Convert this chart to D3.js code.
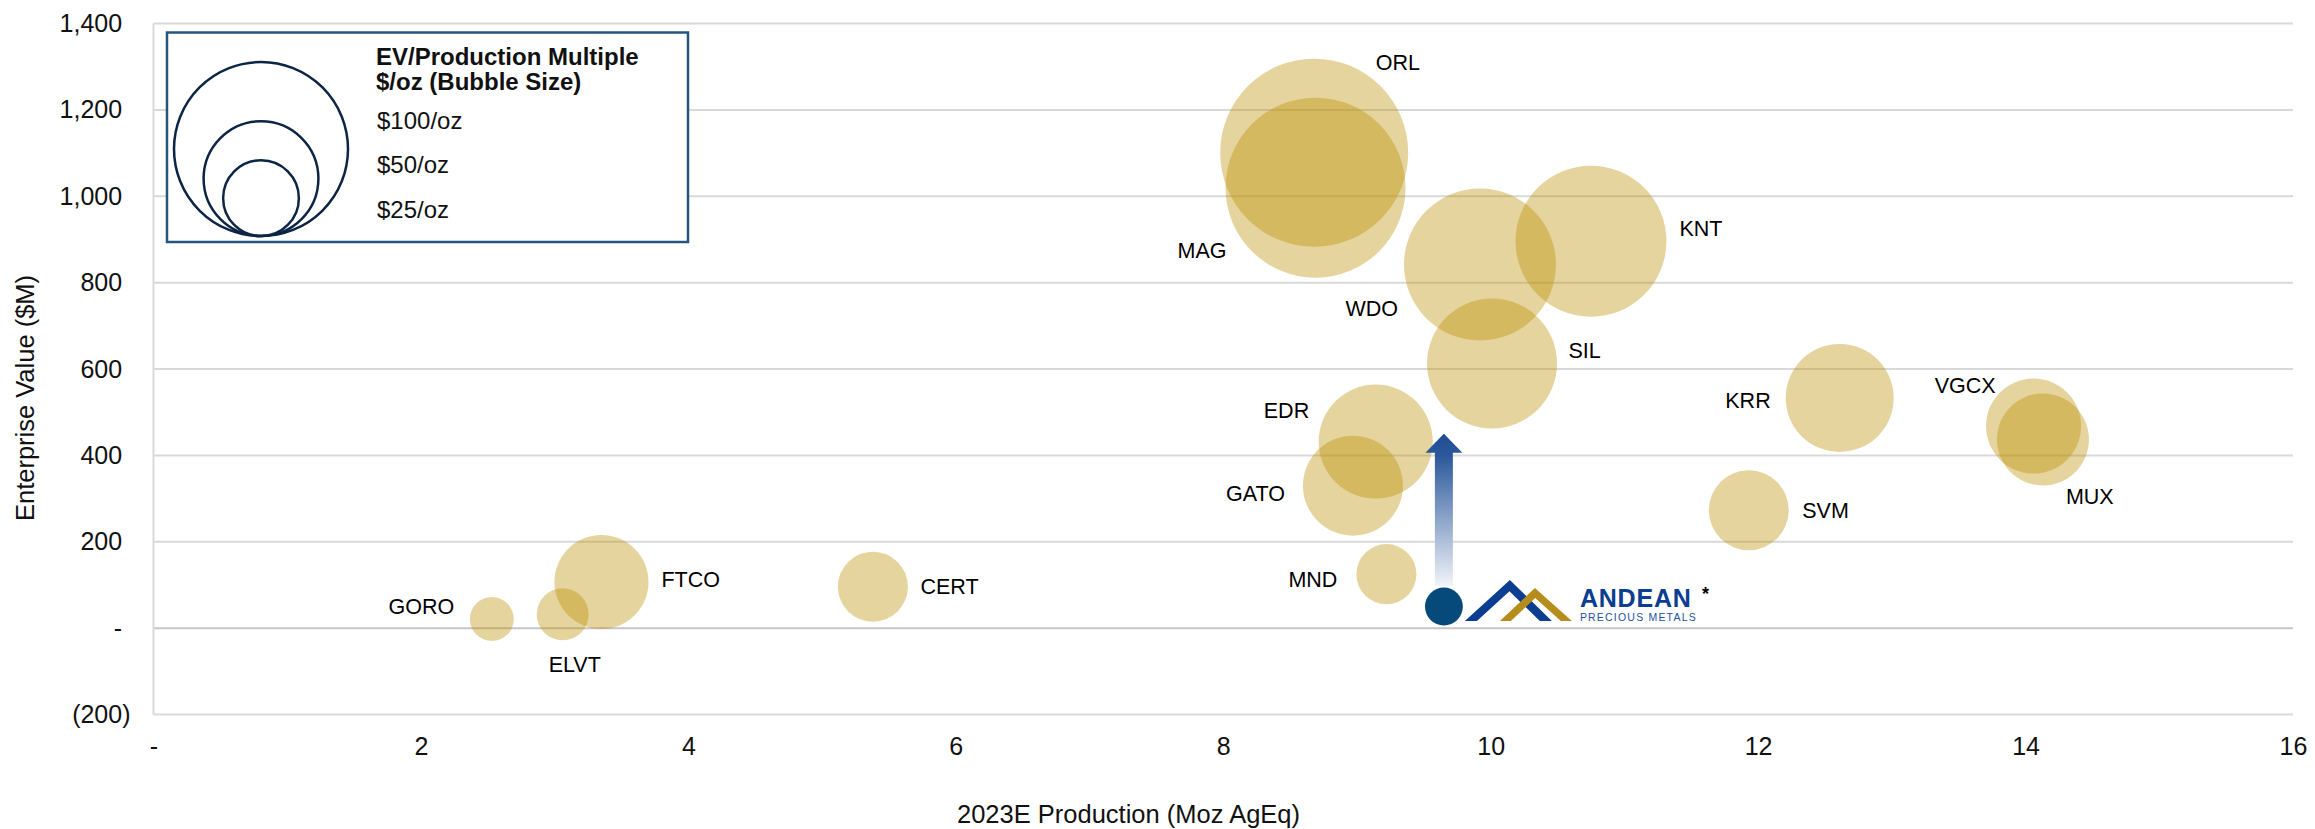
<!DOCTYPE html>
<html>
<head>
<meta charset="utf-8">
<script src="https://cdn.jsdelivr.net/npm/d3@7"></script>
<style>
  body { margin: 0; background: #fff; }
  svg { display: block; font-family: Arial, "Liberation Sans", sans-serif; }
</style>
</head>
<body>
<svg id="chart" width="2315" height="829"></svg>
<script>
// Peer group: 2023E production (Moz AgEq), EV ($M), EV/production multiple ($/oz)
const companies = ["GORO", "ELVT", "FTCO", "CERT", "MAG", "ORL", "GATO", "EDR", "MND", "WDO", "SIL", "KNT", "SVM", "KRR", "VGCX", "MUX"];
const production = [2.53, 3.06, 3.35, 5.38, 8.69, 8.68, 8.97, 9.14, 9.22, 9.92, 10.01, 10.75, 11.93, 12.61, 14.06, 14.13];
const enterpriseValue = [21, 32, 107, 96, 1020, 1101, 330, 432, 125, 842, 613, 896, 273, 533, 468, 437];
const evMultiple = [7.0, 9.8, 32.1, 17.8, 117.6, 128.3, 36.3, 47.2, 13.1, 83.8, 61.3, 82.7, 23.2, 42.3, 32.8, 30.7];

// Andean Precious Metals
const andeanProduction = 9.65;
const andeanEV = 50;
const andeanMultiple = 5.2;
const andeanTargetEV = 450;

// axes + legend
const xTicks = [0, 2, 4, 6, 8, 10, 12, 14, 16];
const yTicks = [-200, 0, 200, 400, 600, 800, 1000, 1200, 1400];
const legendValues = [100, 50, 25];
const legendLabels = ["$100/oz", "$50/oz", "$25/oz"];

// label placement relative to bubble centre: [dx, dy, anchor]
const labelPos = {
  GORO: [-37.5, -5, "end"], ELVT: [-14, 58, "start"], FTCO: [60, 5, "start"], CERT: [47.5, 7.5, "start"],
  MAG: [-89, 70, "end"], ORL: [61.5, -83, "start"], GATO: [-68, 15.5, "end"], EDR: [-66.5, -24, "end"],
  MND: [-49, 13, "end"], WDO: [-82, 51, "end"], SIL: [76.5, -5, "start"], KNT: [88.5, -5.5, "start"],
  SVM: [53.5, 8, "start"], KRR: [-69, 10.5, "end"], VGCX: [-38, -33.5, "end"], MUX: [23, 65, "start"]
};

const svg = d3.select("#chart");
const plotL = 153.5, plotR = 2293, plotT = 23.6, plotB = 714.5;

const x = d3.scaleLinear().domain([0, 16]).range([plotL, plotR]);
const y = d3.scaleLinear().domain([-200, 1400]).range([plotB, plotT]);
const r = d3.scaleSqrt().domain([0, 100]).range([0, 83]);

const fmtY = d => d < 0 ? `(${d3.format(",")(-d)})` : d === 0 ? "-" : d3.format(",")(d);

// gridlines
svg.append("g")
  .selectAll("line")
  .data(yTicks)
  .join("line")
  .attr("x1", plotL).attr("x2", plotR)
  .attr("y1", d => y(d)).attr("y2", d => y(d))
  .attr("stroke", d => d === 0 ? "#c6c6c6" : "#d9d9d9")
  .attr("stroke-width", 2);

svg.append("line")
  .attr("x1", plotL).attr("x2", plotL)
  .attr("y1", plotT).attr("y2", plotB)
  .attr("stroke", "#d9d9d9").attr("stroke-width", 2);

// y tick labels (accounting style: positives padded with hidden ")")
const yAxis = svg.append("g")
  .attr("transform", `translate(${plotL},0)`)
  .call(d3.axisLeft(y).tickValues(yTicks).tickSize(0).tickPadding(23).tickFormat(fmtY));
yAxis.select(".domain").remove();
yAxis.selectAll("text")
  .attr("font-size", 25).attr("font-family", null).attr("fill", "#111")
  .each(function(d) { if (d >= 0) d3.select(this).append("tspan").attr("fill-opacity", 0).text(")"); });

const xAxis = svg.append("g")
  .attr("transform", `translate(0,${plotB})`)
  .call(d3.axisBottom(x).tickValues(xTicks).tickSize(0).tickPadding(22.5).tickFormat(d => d === 0 ? "-" : d));
xAxis.select(".domain").remove();
xAxis.selectAll("text").attr("font-size", 25).attr("font-family", null).attr("fill", "#111");

// axis titles
svg.append("text")
  .attr("x", 957).attr("y", 823)
  .attr("font-size", 25.5).attr("fill", "#111")
  .text("2023E Production (Moz AgEq)");

svg.append("text")
  .attr("transform", "translate(34,398) rotate(-90)")
  .attr("text-anchor", "middle")
  .attr("font-size", 25.5).attr("fill", "#111")
  .text("Enterprise Value ($M)");

// legend
const lg = svg.append("g");
lg.append("rect")
  .attr("x", 167).attr("y", 32.5).attr("width", 521).attr("height", 209.5)
  .attr("fill", "#fff").attr("stroke", "#24557f").attr("stroke-width", 2.5);
const rLegend = d3.scalePow().exponent(0.6).domain([0, 100]).range([0, 87]);
lg.selectAll("circle")
  .data(legendValues)
  .join("circle")
  .attr("cx", 261)
  .attr("cy", d => 236 - rLegend(d))
  .attr("r", d => rLegend(d))
  .attr("fill", "none").attr("stroke", "#0d2545").attr("stroke-width", 2.5);
lg.append("text").attr("x", 376).attr("y", 64.5)
  .attr("font-size", 24).attr("font-weight", "bold").attr("fill", "#111")
  .text("EV/Production Multiple");
lg.append("text").attr("x", 376).attr("y", 90)
  .attr("font-size", 24).attr("font-weight", "bold").attr("fill", "#111")
  .text("$/oz (Bubble Size)");
lg.selectAll("text.item")
  .data(legendLabels)
  .join("text")
  .attr("class", "item")
  .attr("x", 377).attr("y", (d, i) => 128.5 + i * 44.5)
  .attr("font-size", 24).attr("fill", "#111")
  .text(d => d);

// bubbles
const peers = companies.map((c, i) => ({ name: c, prod: production[i], ev: enterpriseValue[i], mult: evMultiple[i] }));

svg.append("g")
  .selectAll("circle")
  .data(peers)
  .join("circle")
  .attr("cx", d => x(d.prod))
  .attr("cy", d => y(d.ev))
  .attr("r", d => r(d.mult))
  .attr("fill", "rgb(188,143,0)")
  .attr("fill-opacity", 0.385);

svg.append("g")
  .selectAll("text")
  .data(peers)
  .join("text")
  .attr("x", d => x(d.prod) + labelPos[d.name][0])
  .attr("y", d => y(d.ev) + labelPos[d.name][1])
  .attr("text-anchor", d => labelPos[d.name][2])
  .attr("font-size", 21.5).attr("fill", "#000")
  .text(d => d.name);

// Andean arrow
const ax = x(andeanProduction), ay = y(andeanEV), ar = r(andeanMultiple);
const tipY = y(andeanTargetEV), headY = tipY + 19, shaftBot = ay - ar - 1;

const defs = svg.append("defs");
const grad = defs.append("linearGradient")
  .attr("id", "arrowGrad").attr("gradientUnits", "userSpaceOnUse")
  .attr("x1", 0).attr("x2", 0).attr("y1", tipY).attr("y2", shaftBot);
grad.append("stop").attr("offset", 0).attr("stop-color", "#1f4b94");
grad.append("stop").attr("offset", 0.15).attr("stop-color", "#2d5a9c");
grad.append("stop").attr("offset", 1).attr("stop-color", "#f2f5fa");

svg.append("path")
  .attr("d", `M${ax},${tipY} L${ax + 18.5},${headY} L${ax + 9},${headY} L${ax + 9},${shaftBot} L${ax - 9},${shaftBot} L${ax - 9},${headY} L${ax - 18.5},${headY} Z`)
  .attr("fill", "url(#arrowGrad)");

svg.append("circle")
  .attr("cx", ax).attr("cy", ay).attr("r", ar)
  .attr("fill", "#064a7c");

// Andean logo, anchored to the point
const logo = svg.append("g").attr("transform", `translate(${ax},${ay})`);
const chevron = (o, i) => "M" + o.concat(i).map(p => p.join(",")).join("L") + "Z";
logo.append("path")
  .attr("d", chevron([[21, 14.5], [66, -26.5], [108, 14.5]], [[96, 14.5], [65.6, -15.2], [33, 14.5]]))
  .attr("fill", "#0b3d91");
logo.append("path")
  .attr("d", chevron([[56, 14.5], [91, -18.5], [128, 14.5]], [[117, 14.5], [91.3, -8.5], [67, 14.5]]))
  .attr("fill", "#b58d1c");
logo.append("text")
  .attr("x", 136).attr("y", 0.5)
  .attr("font-size", 25).attr("font-weight", "bold").attr("letter-spacing", 0.8)
  .attr("fill", "#0b3d91")
  .text("ANDEAN");
logo.append("text")
  .attr("x", 136).attr("y", 14.5)
  .attr("font-size", 10.5).attr("letter-spacing", 1.2)
  .attr("fill", "#2451a0")
  .text("PRECIOUS METALS");
logo.append("text")
  .attr("x", 258).attr("y", -7)
  .attr("font-size", 18).attr("font-weight", "bold").attr("fill", "#000")
  .text("*");
</script>
</body>
</html>
